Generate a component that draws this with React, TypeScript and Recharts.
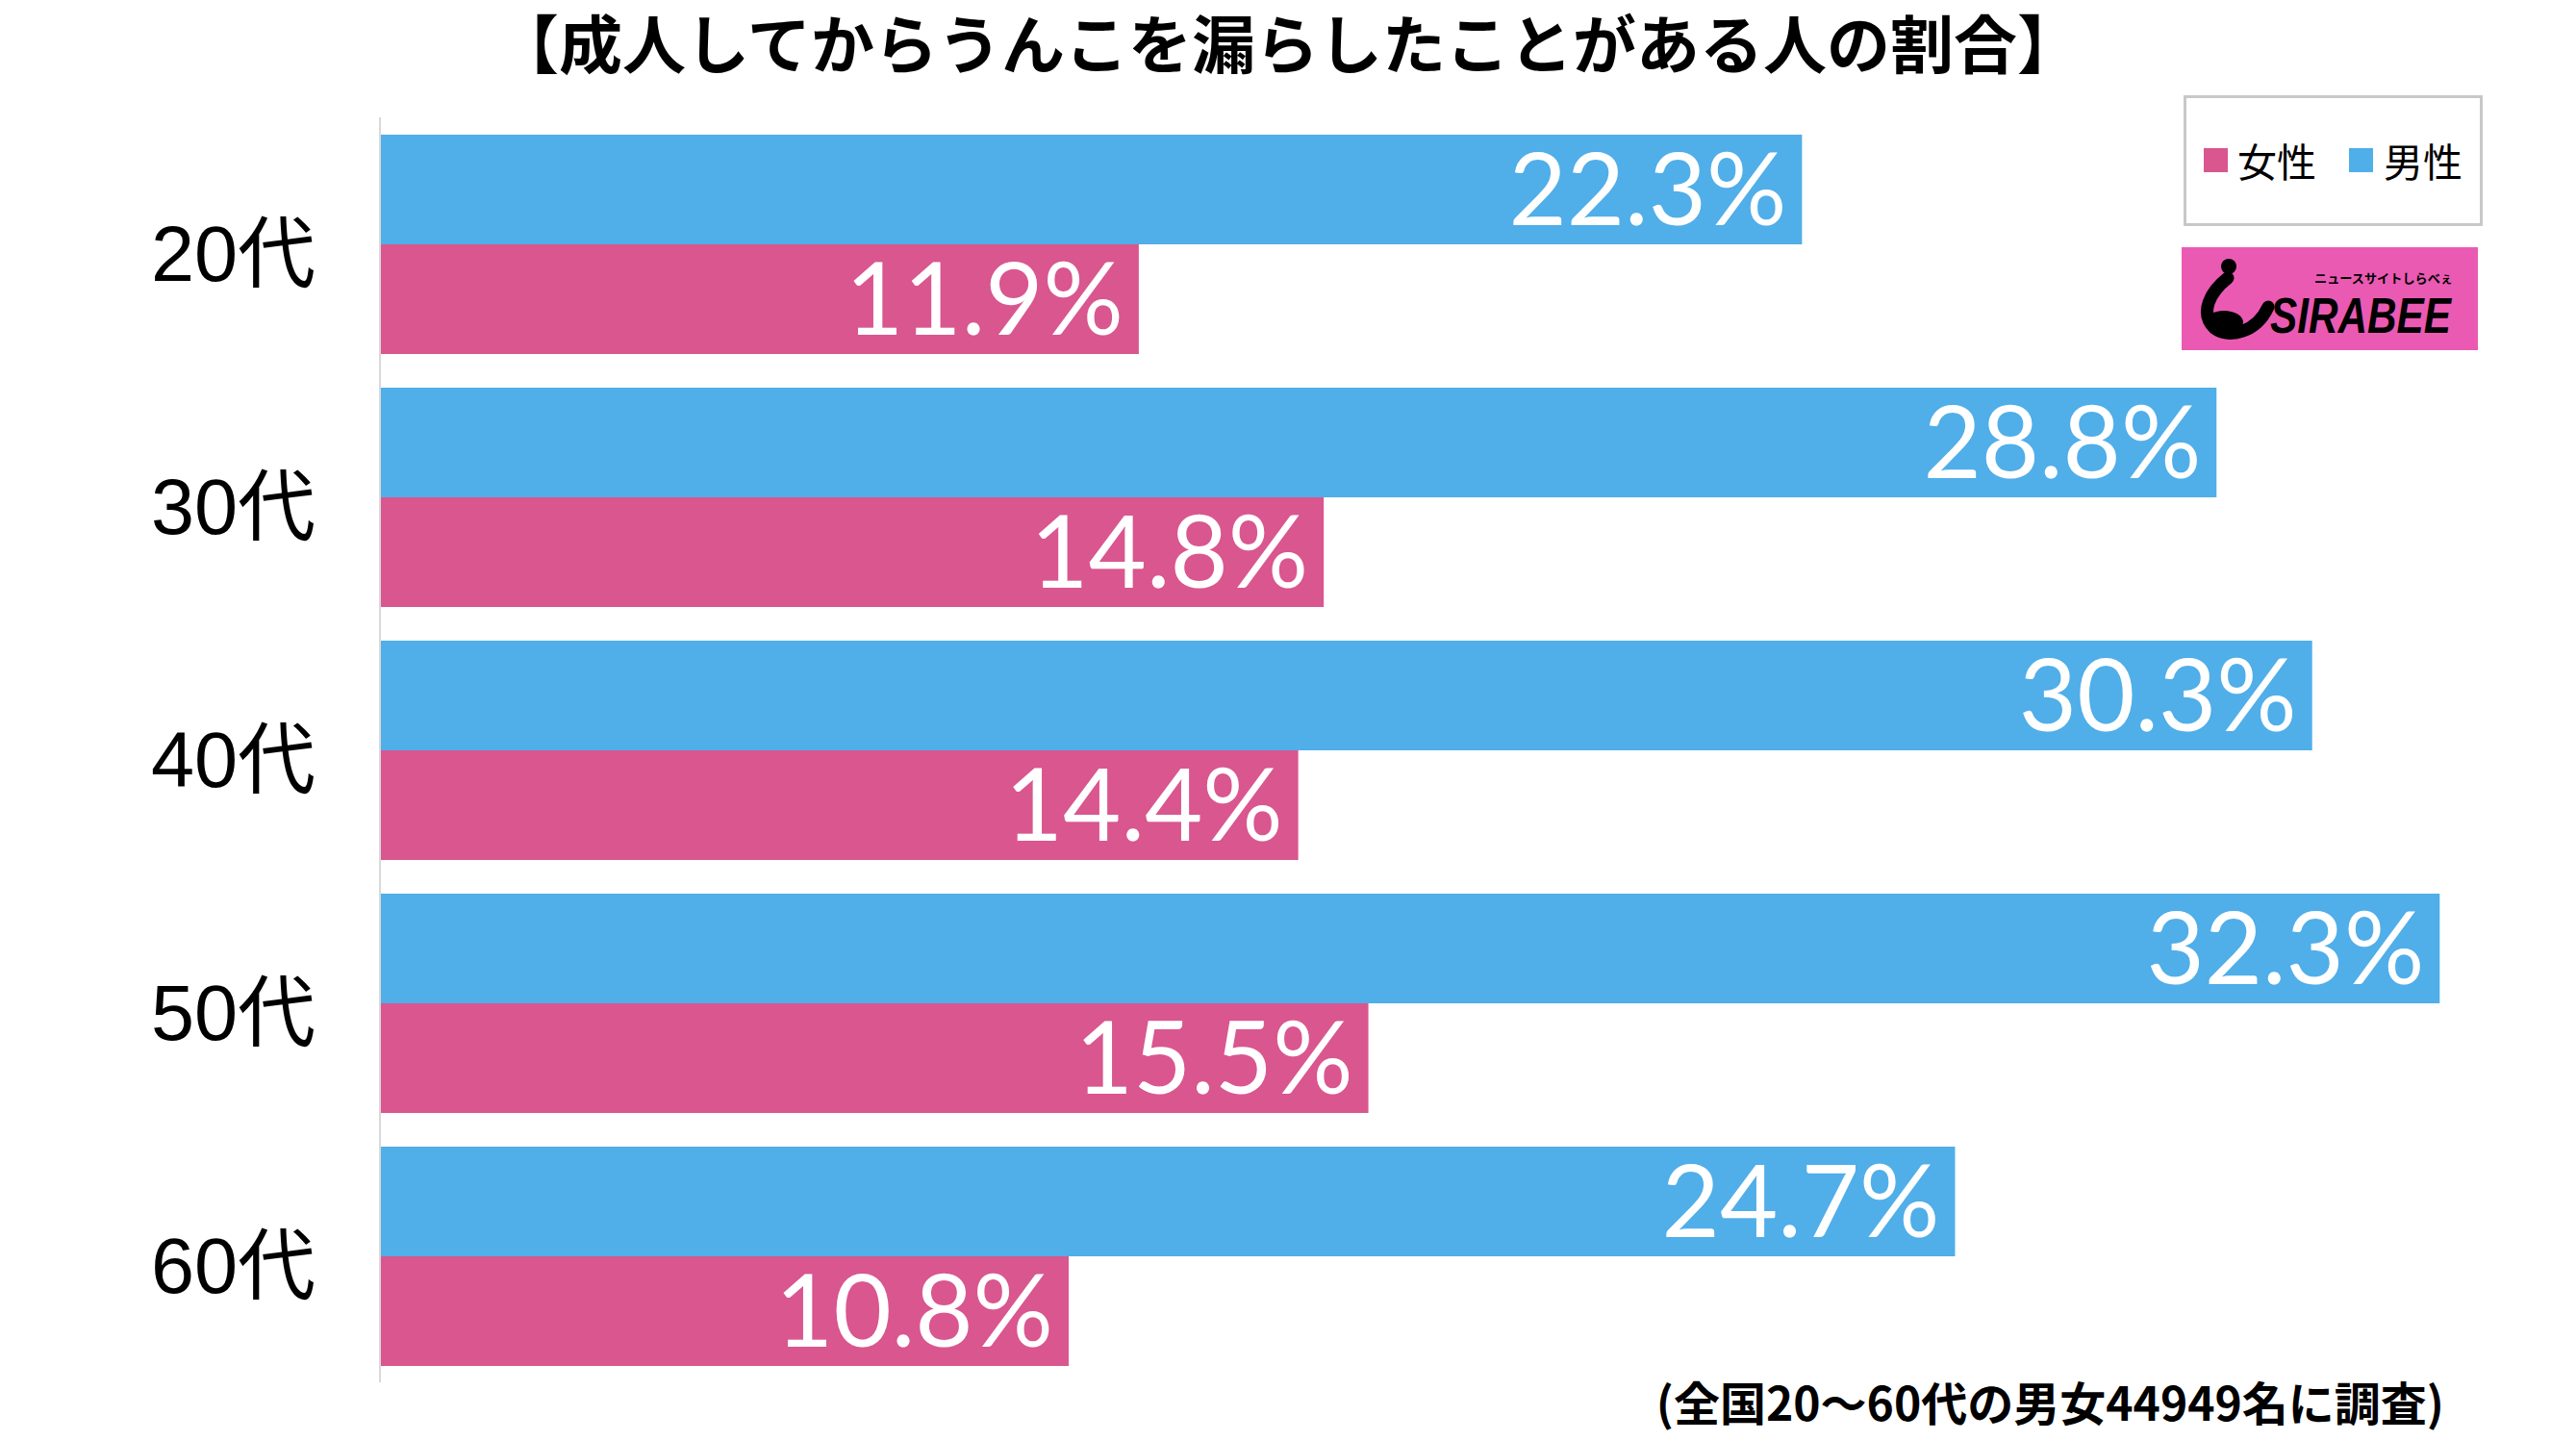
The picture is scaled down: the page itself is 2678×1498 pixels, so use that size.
import { BarChart, Bar, XAxis, YAxis, LabelList } from 'recharts';

const AGES = ['20代', '30代', '40代', '50代', '60代'];
const MALE = [22.3, 28.8, 30.3, 32.3, 24.7];
const FEMALE = [11.9, 14.8, 14.4, 15.5, 10.8];

const BLUE = '#50aee9';
const PINK = '#d9568f';
const JP = '"Noto Sans CJK JP", "Noto Sans", sans-serif';

const data = AGES.map((age, i) => ({ age, male: MALE[i], female: FEMALE[i] }));

function AgeTick({ x, y, payload }: any) {
  return (
    <text x={x} y={y} dy={38} textAnchor="end" fontSize={81} fontFamily={'"Liberation Sans", ' + JP} fill="#000">
      {payload.value}
    </text>
  );
}

function Logo() {
  return (
    <svg width={308} height={107} style={{ position: 'absolute', left: 2268, top: 257 }}>
      <rect width={308} height={107} fill="#ea5ab3" />
      <circle cx={49} cy={20} r={8} fill="#000" />
      <path d="M48 32 C 30 46, 18 68, 34 84 C 50 96, 78 88, 90 62" stroke="#000" strokeWidth={13} fill="none" strokeLinecap="round" />
      <ellipse cx={44} cy={78} rx={20} ry={12} fill="#000" />
      <text x={138} y={37} fontSize={13} fontWeight={700} fontFamily={JP} fill="#000" textLength={144} lengthAdjust="spacingAndGlyphs">
        ニュースサイトしらべぇ
      </text>
      <text x={92} y={89} fontSize={52} fontWeight={900} fontStyle="italic" fontFamily="'Liberation Sans', sans-serif" fill="#000" textLength={188} lengthAdjust="spacingAndGlyphs">
        SIRABEE
      </text>
    </svg>
  );
}

export default function App() {
  return (
    <div style={{ position: 'absolute', left: 0, top: 0, width: 2678, height: 1498, background: '#fff', overflow: 'hidden' }}>
      <div style={{ position: 'absolute', left: 0, width: 2678, top: 2, textAlign: 'center', fontFamily: JP, fontWeight: 700, fontSize: 66, lineHeight: '80px', color: '#000' }}>
        【成人してからうんこを漏らしたことがある人の割合】
      </div>
      <BarChart
        width={2678}
        height={1498}
        data={data}
        layout="vertical"
        margin={{ top: 122, right: 29, bottom: 61, left: 0 }}
        barCategoryGap={18}
        barGap={0}
      >
        <XAxis type="number" domain={[0, 34]} hide />
        <YAxis
          type="category"
          dataKey="age"
          width={395}
          axisLine={{ stroke: '#d9d9d9', strokeWidth: 2 }}
          tickLine={false}
          tickSize={0}
          tickMargin={67}
          tick={<AgeTick />}
        />
        <Bar dataKey="male" fill={BLUE} isAnimationActive={false}>
          <LabelList dataKey="male" position="insideRight" offset={16} fill="#fff" fontSize={104} fontFamily="Lato, sans-serif" formatter={(v: any) => `${v}%`} />
        </Bar>
        <Bar dataKey="female" fill={PINK} isAnimationActive={false}>
          <LabelList dataKey="female" position="insideRight" offset={16} fill="#fff" fontSize={104} fontFamily="Lato, sans-serif" formatter={(v: any) => `${v}%`} />
        </Bar>
      </BarChart>
      <div style={{ position: 'absolute', left: 2270, top: 99, width: 305, height: 130, border: '3px solid #c8c8c8', fontFamily: JP, fontSize: 41, color: '#000' }}>
        <div style={{ position: 'absolute', left: 18, top: 52, width: 25, height: 25, background: PINK }} />
        <div style={{ position: 'absolute', left: 53, top: 40, lineHeight: '48px' }}>女性</div>
        <div style={{ position: 'absolute', left: 169, top: 52, width: 25, height: 25, background: BLUE }} />
        <div style={{ position: 'absolute', left: 205, top: 40, lineHeight: '48px' }}>男性</div>
      </div>
      <Logo />
      <div style={{ position: 'absolute', right: 137, top: 1432, fontFamily: JP, fontWeight: 700, fontSize: 48, lineHeight: '48px', color: '#000' }}>
        (全国20〜60代の男女44949名に調査)
      </div>
    </div>
  );
}
